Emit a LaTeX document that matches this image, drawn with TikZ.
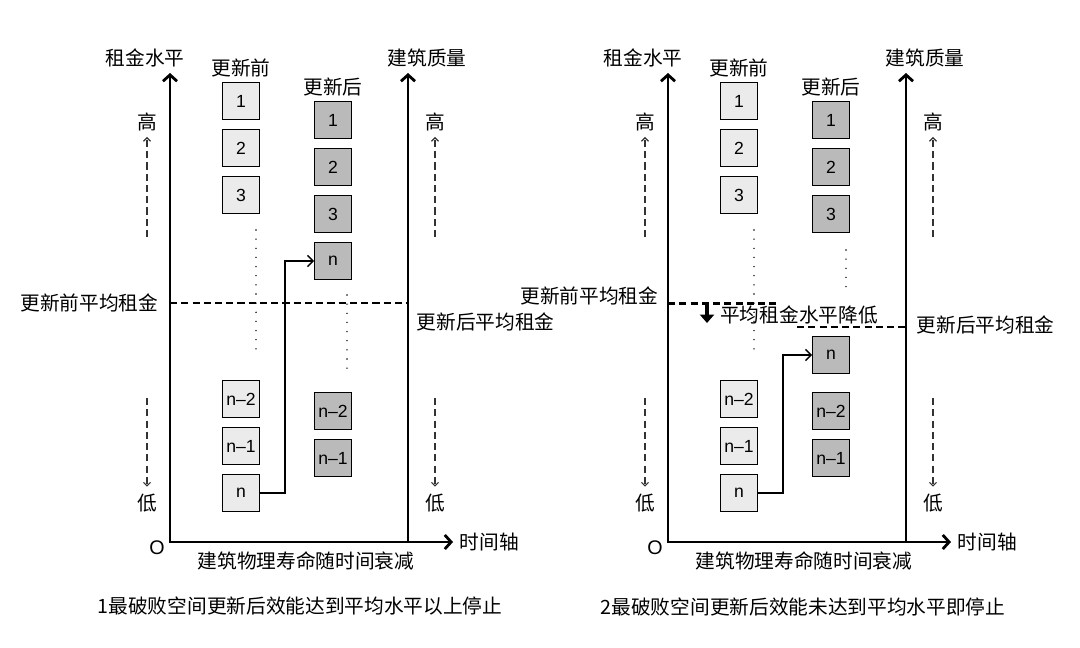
\documentclass[tikz,border=0pt]{standalone}
\usepackage{fontspec}
\setmainfont{Noto Sans CJK SC}
\newfontfamily\numfont{Liberation Sans}
\usetikzlibrary{arrows.meta}
\tikzset{>={Straight Barb[length=4pt,width=8pt]}}
\tikzset{
  lbl/.style={font=\fontsize{14}{15}\selectfont, inner sep=1pt},
  oldbox/.style={draw, line width=1pt, fill=black!8, minimum size=26pt,
    inner sep=0pt, font=\numfont\fontsize{12.5}{13}\selectfont},
  newbox/.style={oldbox, fill=black!27},
  axis/.style={line width=2pt, line join=miter},
  rise/.style={line width=2pt, -{Straight Barb[length=4.5pt,width=10pt]}},
  hint/.style={black!80, line width=0.8pt, dash pattern=on 5pt off 3pt,
    -{Straight Barb[length=2.5pt,width=5pt]}},
  avg/.style={line width=1.8pt, dash pattern=on 5pt off 3pt},
  dots/.style={line width=1.1pt, line cap=round, dash pattern=on 0pt off 6.5pt},
  link/.style={line width=0.9pt, ->},
  drop/.style={line width=3.5pt, -{Triangle[length=6pt,width=10pt]}}
}

\begin{document}
\begin{tikzpicture}[x=0.025cm, y=-0.025cm]
  \useasboundingbox (0,0) rectangle (1080,647);

  % the two panels share axes, scales and boxes
  \foreach \p/\dx in {L/0,R/498}{
    \begin{scope}[shift={(\dx,0)}]
      \coordinate (\p-o) at (170,542);
      \coordinate (\p-ytop) at (170,73);
      \coordinate (\p-xend) at (453,542);
      \coordinate (\p-q) at (408,542);
      \coordinate (\p-qtop) at (408,73);
      \draw[axis, {Straight Barb[length=4.5pt,width=10pt]}-{Straight Barb[length=4.5pt,width=10pt]}]
        (\p-ytop) |- (\p-xend);
      \draw[rise] (\p-q) -- (\p-qtop);

      \node[lbl] (\p-rent) at (145,58) {租金水平};
      \node[lbl] (\p-qual) at (427,58) {建筑质量};
      \node[lbl] (\p-before) at (241,68) {更新前};
      \node[lbl] (\p-after) at (333,87) {更新后};
      \node[lbl] (\p-zero) at (157,548) {\numfont O};
      \node[lbl, anchor=west] (\p-time) at (458,542) {时间轴};
      \node[lbl] (\p-decay) at (306,561) {建筑物理寿命随时间衰减};

      % high / low hints on both sides
      \foreach \s/\hx in {a/147,b/435}{
        \node[lbl] (\p-hi\s) at (\hx,122) {高};
        \node[lbl] (\p-lo\s) at (\hx,503) {低};
        \coordinate (\p-hs\s) at (\hx,237);
        \coordinate (\p-ls\s) at (\hx,398);
        \draw[hint, shorten >=3pt] (\p-hs\s) -- (\p-hi\s);
        \draw[hint, shorten >=4pt] (\p-ls\s) -- (\p-lo\s);
      }

      % before renewal
      \foreach \k/\y in {1/101,2/148,3/195}
        \node[oldbox] (\p-b\k) at (241,\y) {\k};
      \foreach \k/\t/\y in {n2/n–2/399,n1/n–1/446,n/n/493}
        \node[oldbox] (\p-b\k) at (241,\y) {\t};
      \draw[dots] (256,230) -- (256,350);

      % after renewal
      \foreach \k/\y in {1/120,2/167,3/214}
        \node[newbox] (\p-a\k) at (333,\y) {\k};
      \foreach \k/\t/\y in {n2/n–2/411,n1/n–1/458}
        \node[newbox] (\p-a\k) at (333,\y) {\t};
    \end{scope}
  }

  % panel 1
  \node[newbox] (L-an) at (333,261) {n};
  \draw[dots] (347,295) -- (347,375);
  \coordinate (L-m0) at (170,303);
  \coordinate (L-m1) at (408,303);
  \draw[avg] (L-m0) -- (L-m1);
  \node[lbl, anchor=east] (L-avgold) at (160,303) {更新前平均租金};
  \node[lbl, anchor=west] (L-avgnew) at (415,322) {更新后平均租金};
  \draw[link] (L-bn.east) -- ++(25,0) |- (L-an.west);
  \node[lbl] (L-cap) at (300,606) {1最破败空间更新后效能达到平均水平以上停止};

  % panel 2
  \node[newbox] (R-an) at (831,355) {n};
  \draw[dots] (846,250) -- (846,291);
  \coordinate (R-m0) at (668,303.5);
  \coordinate (R-m1) at (778,303.5);
  \coordinate (R-n0) at (797,327);
  \coordinate (R-n1) at (906,327);
  \draw[avg] (R-m0) -- (R-m1);
  \draw[avg] (R-n0) -- (R-n1);
  \coordinate (R-d0) at (707,305);
  \coordinate (R-d1) at (707,323);
  \draw[drop] (R-d0) -- (R-d1);
  \node[lbl] (R-fall) at (799,315) {平均租金水平降低};
  \node[lbl, anchor=east] (R-avgold) at (660,296) {更新前平均租金};
  \node[lbl, anchor=west] (R-avgnew) at (915,325) {更新后平均租金};
  \draw[link] (R-bn.east) -- ++(25,0) |- (R-an.west);
  \node[lbl] (R-cap) at (803,607) {2最破败空间更新后效能未达到平均水平即停止};
\end{tikzpicture}
\end{document}
